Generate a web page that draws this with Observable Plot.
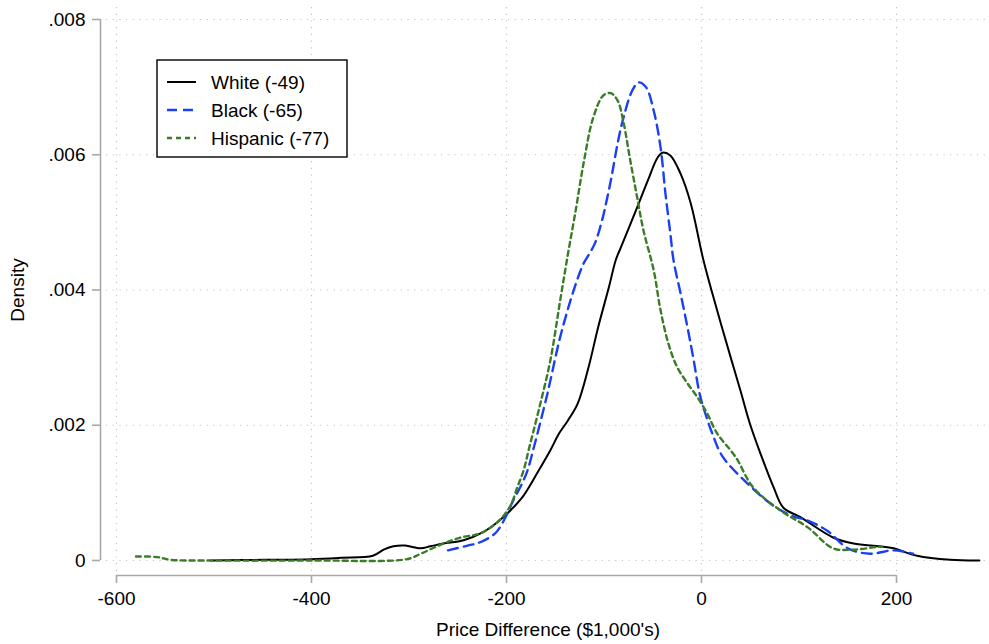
<!DOCTYPE html>
<html>
<head>
<meta charset="utf-8">
<script src="https://cdn.jsdelivr.net/npm/d3@7"></script>
<script src="https://cdn.jsdelivr.net/npm/@observablehq/plot@0.6"></script>
<style>
  body { margin: 0; background: #fff; }
  #chart svg { display: block; }
</style>
</head>
<body>
<div id="chart"></div>
<script>
// ---- Data ----
const seriesNames = ["White (-49)", "Black (-65)", "Hispanic (-77)"];

const whiteX = [-503,-450,-400,-370,-337,-326,-316,-304,-288,-278,-265,-244,-224,-209,-196,-182.5,-167,-155,-146,-137,-127,-116,-106,-95,-88,-83,-75,-66,-55,-45,-40,-32,-21.5,-11,2,16,30,40,49.5,60.5,74,84,101.5,135,156,183,197,221,255,285];
const whiteY = [0,0.00001,0.00002,0.00004,0.00007,0.00016,0.00021,0.00022,0.00018,0.00021,0.00025,0.0003,0.00042,0.00057,0.00074,0.00096,0.00133,0.00163,0.00188,0.00207,0.00232,0.00285,0.00345,0.00404,0.00444,0.00462,0.0049,0.00522,0.00562,0.00596,0.00603,0.00599,0.00572,0.00528,0.00444,0.0037,0.003,0.00251,0.00203,0.00158,0.00108,0.00078,0.00064,0.00034,0.00025,0.00021,0.00018,0.00007,0.00001,0];

const blackX = [-260,-240,-227,-211,-201,-193,-184,-178.5,-172,-158,-145,-131,-121,-114,-109,-102,-93,-86,-80,-71,-64.6,-57,-49,-42,-37,-32,-28.7,-21.5,-14.4,-8,-2,4,11,21.5,47,71,91,109,129,150,173,197,217];
const blackY = [0.00015,0.00022,0.00027,0.00041,0.00064,0.00089,0.00114,0.00133,0.00167,0.00247,0.0033,0.004,0.00439,0.00456,0.0047,0.00503,0.00562,0.00617,0.00655,0.00695,0.00707,0.007,0.00665,0.00611,0.00543,0.00484,0.00444,0.00395,0.00345,0.00296,0.00247,0.00217,0.00188,0.00154,0.00114,0.00084,0.00067,0.00059,0.00044,0.00018,0.0001,0.00015,0.0001];

const hispX = [-580,-558,-545,-510,-400,-302,-288,-268,-247,-227,-209,-196,-189,-182.5,-177,-167,-155,-145,-137,-129,-121,-111,-100.5,-93,-86,-80,-73,-66,-59.5,-49,-42,-34,-25,-14.4,-4,6,16,35,53,81,109,135,156,180,185];
const hispY = [0.00006,0.00005,0.00001,0,0,0.00002,0.0001,0.00023,0.00034,0.0004,0.00057,0.00081,0.00108,0.00133,0.00165,0.00222,0.00296,0.00384,0.00453,0.00518,0.00587,0.00655,0.00688,0.00691,0.0068,0.00648,0.00591,0.00537,0.00488,0.00429,0.0037,0.00321,0.00286,0.00262,0.00241,0.00217,0.00188,0.00153,0.00108,0.00074,0.00049,0.00018,0.00016,0.0002,0.0002];

const xTicks = [-600, -400, -200, 0, 200];
const yTicks = [0, 0.002, 0.004, 0.006, 0.008];
const xTitle = "Price Difference ($1,000's)";
const yTitle = "Density";

// ---- Build tables ----
const toRows = (xs, ys, name) => xs.map((x, i) => ({x, y: ys[i], series: name}));
const whiteRows = toRows(whiteX, whiteY, seriesNames[0]);
const blackRows = toRows(blackX, blackY, seriesNames[1]);
const hispRows = toRows(hispX, hispY, seriesNames[2]);

const colors = ["#000000", "#1a40f2", "#3a7d26"];
const dashes = [null, "10,6", "5,4"];
const widths = [2, 2.4, 2.4];

const font = "'Liberation Sans', Arial, Helvetica, sans-serif";
const FS = 19;
const X0 = -616.41, X1 = 295.38, Y0 = -0.000222, Y1 = 0.008207;
const gridColor = "#c4c4c4";
const axisColor = "#a8a8a8";

const svg = Plot.plot({
  width: 989,
  height: 644,
  marginLeft: 100,
  marginRight: 0,
  marginTop: 5,
  marginBottom: 69,
  style: {fontFamily: font, fontSize: FS + "px", background: "#fff", color: "#000"},
  x: {domain: [X0, X1], axis: null},
  y: {domain: [Y0, Y1], axis: null},
  marks: [
    // grid
    Plot.ruleY(yTicks, {x1: -610.3, x2: 294.4, stroke: gridColor, strokeWidth: 1.2, strokeDasharray: "1.2,5.5"}),
    Plot.ruleX(xTicks, {y1: -0.000163, y2: Y1, stroke: gridColor, strokeWidth: 1.2, strokeDasharray: "1.2,5.5"}),
    // axis lines
    Plot.ruleX([X0], {y1: yTicks[0], y2: yTicks[yTicks.length - 1], stroke: axisColor, strokeWidth: 1.6}),
    Plot.ruleY([Y0], {x1: xTicks[0], x2: xTicks[xTicks.length - 1], stroke: axisColor, strokeWidth: 1.6}),
    Plot.axisY(yTicks, {
      anchor: "left", tickSize: 8, tickPadding: 7, stroke: axisColor, strokeWidth: 1.6,
      fill: "#000", fontSize: FS, label: null,
      tickFormat: d => d === 0 ? "0" : d3.format(".3f")(d).slice(1)
    }),
    Plot.axisX(xTicks, {
      anchor: "bottom", tickSize: 8, tickPadding: 8, stroke: axisColor, strokeWidth: 1.6,
      fill: "#000", fontSize: FS, label: null, tickFormat: d => String(d)
    }),
    // density curves
    Plot.line(whiteRows, {x: "x", y: "y", stroke: colors[0], strokeWidth: widths[0], curve: "catmull-rom"}),
    Plot.line(blackRows, {x: "x", y: "y", stroke: colors[1], strokeWidth: widths[1], strokeDasharray: dashes[1], curve: "catmull-rom"}),
    Plot.line(hispRows, {x: "x", y: "y", stroke: colors[2], strokeWidth: widths[2], strokeDasharray: dashes[2], curve: "catmull-rom"})
  ]
});

const s = d3.select(svg);
// axis titles
s.append("text").attr("x", 548).attr("y", 636).attr("text-anchor", "middle")
  .attr("font-family", font).attr("font-size", FS).attr("fill", "#000").text(xTitle);
s.append("text").attr("transform", "translate(24,290) rotate(-90)").attr("text-anchor", "middle")
  .attr("font-family", font).attr("font-size", FS).attr("fill", "#000").text(yTitle);

// legend
const lg = s.append("g");
lg.append("rect").attr("x", 157).attr("y", 60).attr("width", 190).attr("height", 97)
  .attr("fill", "#fff").attr("stroke", "#000").attr("stroke-width", 1.4);
seriesNames.forEach((name, i) => {
  const yy = 82 + i * 28;
  const ln = lg.append("line").attr("x1", 167).attr("x2", 196).attr("y1", yy).attr("y2", yy)
    .attr("stroke", colors[i]).attr("stroke-width", widths[i]);
  if (dashes[i]) ln.attr("stroke-dasharray", dashes[i]);
  lg.append("text").attr("x", 211).attr("y", yy).attr("dy", "0.35em").attr("text-anchor", "start")
    .attr("font-family", font).attr("font-size", FS).attr("fill", "#000").text(name);
});

document.getElementById("chart").appendChild(svg);
</script>
</body>
</html>
